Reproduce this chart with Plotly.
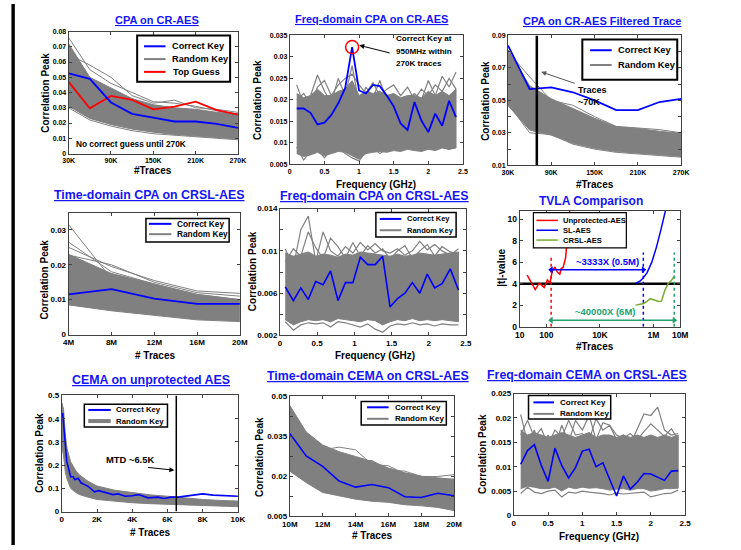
import plotly.graph_objects as go

W, H = 741, 550
FONT = "Liberation Sans, Arial, sans-serif"
GRAY = "#808080"
BLUE = "#0000FF"
RED = "#FF0000"
OLIVE = "#77AC30"
TEAL = "#23A06E"
TBLUE = "#1515F5"

# ---------------- data ----------------
# Panel 1: CPA on CR-AES (traces in K)
k_traces = [30, 60, 90, 120, 150, 180, 210, 240, 270]
p1_correct = [0.0525, 0.049, 0.0335, 0.026, 0.0235, 0.021, 0.021, 0.0195, 0.0168]
p1_top = [0.047, 0.0296, 0.0378, 0.0352, 0.029, 0.0307, 0.034, 0.0285, 0.0255]
p1_rand_hi = [0.072, 0.050, 0.043, 0.036, 0.032, 0.030, 0.029, 0.027, 0.026]
p1_rand_lo = [0.031, 0.023, 0.019, 0.016, 0.014, 0.0125, 0.0115, 0.0105, 0.0095]
p1_rand_a = [0.065, 0.058, 0.050, 0.038, 0.033, 0.035, 0.030, 0.029, 0.027]
p1_rand_b = [0.076, 0.055, 0.046, 0.040, 0.034, 0.033, 0.031, 0.028, 0.026]
p1_rand_c = [0.030, 0.022, 0.018, 0.015, 0.013, 0.012, 0.011, 0.010, 0.009]

# Panel 2: Freq-domain CPA on CR-AES (GHz)
freq24 = [0.1, 0.2, 0.3, 0.4, 0.5, 0.6, 0.7, 0.8, 0.9, 1.0, 1.1, 1.2,
          1.3, 1.4, 1.5, 1.6, 1.7, 1.8, 1.9, 2.0, 2.1, 2.2, 2.3, 2.4]
p2_correct = [0.018, 0.018, 0.017, 0.0143, 0.0147, 0.0165, 0.0192, 0.0228, 0.0323, 0.0222, 0.0215, 0.0235,
              0.0232, 0.021, 0.0185, 0.0145, 0.013, 0.0195, 0.0152, 0.0125, 0.0168, 0.014, 0.0198, 0.016]
p2_rand_hi = [0.0215, 0.0205, 0.021, 0.0225, 0.021, 0.021, 0.022, 0.0225, 0.0245, 0.021, 0.022, 0.0215,
              0.022, 0.021, 0.0215, 0.0205, 0.021, 0.021, 0.0205, 0.022, 0.021, 0.022, 0.021, 0.0225]
p2_rand_lo = [0.0075, 0.0068, 0.0072, 0.0078, 0.007, 0.0075, 0.008, 0.0078, 0.007, 0.0062, 0.0075, 0.0078,
              0.008, 0.0078, 0.0082, 0.008, 0.0085, 0.0082, 0.008, 0.0085, 0.0082, 0.0088, 0.0085, 0.0088]
p2_rand_a = [0.0235, 0.019, 0.021, 0.0258, 0.022, 0.0195, 0.025, 0.021, 0.028, 0.019, 0.023, 0.0205,
             0.0245, 0.020, 0.021, 0.019, 0.020, 0.0215, 0.020, 0.0245, 0.021, 0.0255, 0.023, 0.0265]
p2_rand_b = [0.020, 0.0215, 0.019, 0.023, 0.0245, 0.021, 0.0235, 0.025, 0.026, 0.0235, 0.0215, 0.024,
             0.021, 0.0225, 0.0235, 0.021, 0.023, 0.020, 0.0225, 0.021, 0.0235, 0.022, 0.025, 0.0225]
p2_rand_c = [0.009, 0.006, 0.008, 0.0085, 0.0065, 0.0085, 0.009, 0.0075, 0.0065, 0.0058, 0.008, 0.009,
             0.0075, 0.0085, 0.009, 0.0085, 0.009, 0.009, 0.0085, 0.0095, 0.0088, 0.009, 0.0085, 0.0092]

# Panel 3: CPA on CR-AES filtered trace
p3_correct = [0.0839, 0.057, 0.058, 0.055, 0.050, 0.044, 0.044, 0.049, 0.051]
p3_rand_hi = [0.0813, 0.059, 0.051, 0.045, 0.039, 0.0337, 0.0327, 0.031, 0.0297]
p3_rand_lo = [0.0469, 0.0317, 0.0286, 0.0236, 0.0205, 0.0185, 0.0175, 0.0165, 0.0155]
p3_rand_a = [0.080, 0.0645, 0.050, 0.047, 0.040, 0.034, 0.033, 0.032, 0.030]
p3_rand_b = [0.048, 0.030, 0.029, 0.023, 0.020, 0.018, 0.017, 0.016, 0.015]
p3_mtd = 70

# Panel 4: Time-domain CPA on CRSL-AES (traces in M)
m_traces4 = [4, 8, 12, 16, 20]
p4_correct = [0.0115, 0.013, 0.0103, 0.0088, 0.0088]
p4_rand_hi = [0.023, 0.0175, 0.0145, 0.0115, 0.010]
p4_rand_lo = [0.0085, 0.0068, 0.0055, 0.0042, 0.0037]
p4_rand_a = [0.0315, 0.016, 0.0135, 0.011, 0.0095]
p4_rand_b = [0.0265, 0.018, 0.0145, 0.0115, 0.010]
p4_rand_c = [0.025, 0.0195, 0.0155, 0.0125, 0.0118]
p4_rand_d = [0.0228, 0.020, 0.015, 0.012, 0.011]

# Panel 5: Freq-domain CPA on CRSL-AES
p5_freq = [0.07, 0.18, 0.28, 0.38, 0.48, 0.58, 0.68, 0.78, 0.88, 0.98, 1.08, 1.18,
           1.28, 1.38, 1.48, 1.58, 1.68, 1.78, 1.88, 1.98, 2.08, 2.18, 2.29, 2.40]
p5_correct = [0.0066, 0.0053, 0.0065, 0.0054, 0.0071, 0.0068, 0.0081, 0.0053, 0.0070, 0.0070, 0.0094, 0.0087,
              0.0087, 0.0095, 0.0047, 0.0055, 0.0060, 0.0070, 0.0060, 0.0078, 0.0065, 0.0069, 0.0083, 0.0063]
p5_rand_hi = [0.0098, 0.0095, 0.0097, 0.0099, 0.0095, 0.0097, 0.0096, 0.0094, 0.0097, 0.0096, 0.0099, 0.0098,
              0.0097, 0.0096, 0.0095, 0.0097, 0.0095, 0.0096, 0.0098, 0.0097, 0.0096, 0.0097, 0.0098, 0.0099]
p5_rand_lo = [0.0035, 0.003, 0.0033, 0.0035, 0.0034, 0.0035, 0.0033, 0.0036, 0.0035, 0.0034, 0.0033, 0.0035,
              0.0034, 0.003, 0.0033, 0.0035, 0.0034, 0.0036, 0.0034, 0.0035, 0.0034, 0.0035, 0.0034, 0.0033]
p5_rand_a = [0.0102, 0.0085, 0.012, 0.0133, 0.009, 0.0118, 0.010, 0.0095, 0.0104, 0.0098, 0.0108, 0.0101,
             0.0107, 0.0100, 0.0098, 0.0102, 0.0096, 0.0100, 0.0109, 0.0101, 0.0106, 0.0100, 0.0096, 0.0102]
p5_rand_b = [0.009, 0.0102, 0.0095, 0.0118, 0.0103, 0.0093, 0.0112, 0.0104, 0.0093, 0.0108, 0.0095, 0.0105,
             0.0098, 0.0102, 0.0092, 0.0100, 0.0105, 0.0093, 0.0100, 0.0106, 0.0095, 0.0104, 0.0099, 0.0097]
p5_rand_c = [0.0033, 0.0025, 0.003, 0.0032, 0.0031, 0.0032, 0.0028, 0.0033, 0.0032, 0.003, 0.0028, 0.0031,
             0.0026, 0.0023, 0.0029, 0.0031, 0.0030, 0.0032, 0.0030, 0.0031, 0.0029, 0.0031, 0.0030, 0.003]

# Panel 6: TVLA comparison
unprot_x = [19, 27, 38, 54, 66, 82, 109, 135, 166, 207, 253, 316, 355, 420, 520, 620, 700, 800]
unprot_t = [4.8, 4.05, 3.45, 4.05, 3.85, 3.65, 4.35, 4.05, 5.2, 5.55, 5.1, 4.85, 5.4, 5.5, 6.4, 8.3, 10.0, 11.8]
sl_x = [214e3, 300e3, 373e3, 575e3, 870e3, 1.3e6, 1.9e6, 2.7e6, 3.3e6]
sl_t = [4.05, 4.2, 4.4, 5.0, 6.0, 7.4, 9.0, 10.5, 11.5]
crsl_x = [214e3, 300e3, 436e3, 600e3, 760e3, 1.15e6, 1.6e6, 2.0e6, 2.7e6, 3.5e6, 4.7e6, 6.3e6]
crsl_t = [2.0, 2.05, 2.15, 2.4, 2.6, 2.46, 2.35, 2.37, 3.4, 4.0, 4.3, 4.75]
tvla_threshold = 4
mtd_unprot, mtd_sl, mtd_crsl = 150, 4.2e5, 6e6

# Panel 7: CEMA on unprotected AES
cema_x = [50, 180, 280, 370, 500, 650, 740, 920, 1100, 1300, 1500, 1700, 1850, 2100, 2500, 2900,
          3200, 3600, 4000, 4350, 4900, 5450, 5800, 6200, 6600, 7000, 7500, 8000, 8600, 9200, 10000]
cema_correct = [0.425, 0.31, 0.215, 0.19, 0.15, 0.15, 0.137, 0.143, 0.123, 0.116, 0.108, 0.095, 0.085, 0.09,
                0.08, 0.073, 0.076, 0.066, 0.068, 0.073, 0.059, 0.062, 0.056, 0.062, 0.062, 0.066, 0.073,
                0.076, 0.071, 0.069, 0.066]
cema_band_x = [0, 100, 200, 300, 500, 800, 1000, 1500, 2000, 3000, 4000, 5000, 6000, 7000, 8000, 9000, 10000]
cema_rand_hi = [0.47, 0.44, 0.33, 0.27, 0.215, 0.175, 0.158, 0.13, 0.11, 0.092, 0.082, 0.072, 0.066,
                0.058, 0.052, 0.048, 0.045]
cema_rand_lo = [0.28, 0.24, 0.17, 0.14, 0.10, 0.082, 0.073, 0.062, 0.052, 0.044, 0.038, 0.034, 0.031,
                0.028, 0.025, 0.023, 0.021]
cema_mtd = 6500

# Panel 8: Time-domain CEMA on CRSL-AES (M traces)
m_traces8 = [10, 11, 12, 13, 14, 15, 16, 17, 18, 19, 20]
p8_correct = [0.0361, 0.0277, 0.0238, 0.0183, 0.016, 0.017, 0.0158, 0.0124, 0.0121, 0.0137, 0.0128]
p8_rand_hi = [0.0466, 0.0367, 0.0318, 0.0293, 0.0275, 0.0256, 0.0232, 0.0214, 0.0201, 0.0195, 0.0189]
p8_rand_lo = [0.022, 0.0177, 0.014, 0.0128, 0.0115, 0.0107, 0.0103, 0.0094, 0.009, 0.0084, 0.0072]
p8_rand_a = [0.044, 0.035, 0.030, 0.031, 0.030, 0.0245, 0.024, 0.021, 0.020, 0.019, 0.019]
p8_rand_b = [0.043, 0.034, 0.029, 0.027, 0.026, 0.026, 0.0225, 0.022, 0.020, 0.020, 0.0207]

# Panel 9: Freq-domain CEMA on CRSL-AES
p9_correct = [0.0105, 0.0133, 0.0145, 0.0103, 0.007, 0.0138, 0.0102, 0.0077, 0.0098, 0.0132, 0.0136, 0.0100,
              0.0108, 0.0075, 0.004, 0.0081, 0.0054, 0.0068, 0.0086, 0.0085, 0.0078, 0.0072, 0.0091, 0.0092]
p9_rand_hi = [0.0175, 0.0165, 0.017, 0.0165, 0.016, 0.0165, 0.017, 0.0165, 0.016, 0.0165, 0.017, 0.016,
              0.0165, 0.0165, 0.016, 0.0165, 0.016, 0.0165, 0.016, 0.0165, 0.016, 0.0165, 0.016, 0.0165]
p9_rand_lo = [0.0055, 0.006, 0.0058, 0.0055, 0.0055, 0.0058, 0.005, 0.0058, 0.0055, 0.0058, 0.0056, 0.0057,
              0.0055, 0.0052, 0.0054, 0.0055, 0.0052, 0.0055, 0.0055, 0.005, 0.0052, 0.0055, 0.0055, 0.0056]
p9_rand_a = [0.0207, 0.015, 0.0175, 0.013, 0.0165, 0.014, 0.0185, 0.015, 0.0195, 0.0175, 0.0205, 0.0155,
             0.019, 0.0185, 0.0155, 0.0165, 0.0145, 0.0175, 0.0208, 0.0205, 0.0222, 0.0175, 0.0165, 0.0168]
p9_rand_b = [0.0165, 0.0195, 0.016, 0.0178, 0.0145, 0.0175, 0.016, 0.0195, 0.0165, 0.0168, 0.0155, 0.0198,
             0.0175, 0.0185, 0.0165, 0.0158, 0.0168, 0.0155, 0.0172, 0.0188, 0.0175, 0.0162, 0.0178, 0.0155]
p9_rand_c = [0.0045, 0.0058, 0.0048, 0.0045, 0.005, 0.0052, 0.0038, 0.0048, 0.0046, 0.005, 0.0048, 0.0047,
             0.0045, 0.0042, 0.0046, 0.0044, 0.0045, 0.0046, 0.0048, 0.0038, 0.0042, 0.0045, 0.0046, 0.0052]

# ---------------- helpers ----------------
fig = go.Figure()


def axn(i):
    return ("x", "y") if i == 1 else (f"x{i}", f"y{i}")


def band(i, x, lo, hi):
    xa, ya = axn(i)
    fig.add_trace(go.Scatter(x=list(x) + list(x)[::-1], y=list(hi) + list(lo)[::-1], fill="toself",
                             fillcolor=GRAY, mode="lines", line=dict(color=GRAY, width=1),
                             xaxis=xa, yaxis=ya, showlegend=False, hoverinfo="skip"))


def line(i, x, y, color, width=1.0, dash="solid", mode="lines", **kw):
    xa, ya = axn(i)
    fig.add_trace(go.Scatter(x=x, y=y, mode=mode, line=dict(color=color, width=width, dash=dash),
                             xaxis=xa, yaxis=ya, showlegend=False, hoverinfo="skip", **kw))


def PX(px):
    return px / W


def PY(py):
    return 1 - py / H


annotations = []
shapes = []


def text(px, py, s, size, color="black", xanchor="center", angle=0, bold=True, underline=False):
    annotations.append(dict(x=PX(px), y=PY(py), xref="paper", yref="paper", text=s, showarrow=False,
                            xanchor=xanchor, yanchor="middle", textangle=angle,
                            font=dict(family=FONT, size=size, color=color,
                                      weight="bold" if bold else "normal",
                                      lineposition="under" if underline else "none")))


def arrow(hx, hy, tx, ty, color="black", width=1):
    annotations.append(dict(x=PX(hx), y=PY(hy), xref="paper", yref="paper", text="", showarrow=True,
                            ax=tx - hx, ay=ty - hy, axref="pixel", ayref="pixel",
                            arrowhead=2, arrowsize=1, arrowwidth=width, arrowcolor=color))


def legend(box, items, size, bw=1):
    x0, x1, y0, y1 = box
    shapes.append(dict(type="rect", xref="paper", yref="paper", x0=PX(x0), x1=PX(x1), y0=PY(y1), y1=PY(y0),
                       line=dict(color="black", width=bw), fillcolor="white", layer="above"))
    for label, color, py, lx0, lx1, tx, lw in items:
        shapes.append(dict(type="line", xref="paper", yref="paper", x0=PX(lx0), x1=PX(lx1), y0=PY(py), y1=PY(py),
                           line=dict(color=color, width=lw), layer="above"))
        text(tx, py, label, size, xanchor="left")


boxes = {
    1: (62, 235, 28, 152),
    2: (288, 465, 32, 163),
    3: (511, 688, 32, 164),
    4: (62, 237, 212, 336),
    5: (278, 468, 208, 337),
    6: (523, 687, 210, 328),
    7: (55, 235, 398, 516),
    8: (288, 456, 399, 521),
    9: (517, 692, 396, 520),
}


def axis_base(size):
    return dict(showline=True, linecolor="#404040", linewidth=1, mirror="ticks", ticks="inside", ticklen=3,
                tickcolor="#404040", tickwidth=1, showgrid=False, zeroline=False,
                tickfont=dict(family=FONT, size=size, color="black", weight="bold"))


layout_axes = {}


def set_axes(i, xcfg, ycfg, size=7.5):
    x0, x1, y0, y1 = boxes[i]
    xa = axis_base(size)
    xa.update(domain=[PX(x0), PX(x1)], anchor="y" if i == 1 else f"y{i}")
    xa.update(xcfg)
    ya = axis_base(size)
    ya.update(domain=[PY(y1), PY(y0)], anchor="x" if i == 1 else f"x{i}")
    ya.update(ycfg)
    layout_axes["xaxis" if i == 1 else f"xaxis{i}"] = xa
    layout_axes["yaxis" if i == 1 else f"yaxis{i}"] = ya


def k_labels(vals):
    return [f"{v}K" for v in vals]


# ---------------- panel 1 ----------------
band(1, k_traces, p1_rand_lo, p1_rand_hi)
for r in (p1_rand_a, p1_rand_b, p1_rand_c):
    line(1, k_traces, r, GRAY, 1)
line(1, k_traces, p1_top, RED, 1.8)
line(1, k_traces, p1_correct, BLUE, 1.8)
set_axes(1, dict(range=[30, 270], tickvals=k_traces[::2], ticktext=k_labels(k_traces[::2])),
         dict(range=[0, 0.08], tickvals=[0, 0.01, 0.02, 0.03, 0.04, 0.05, 0.06, 0.07, 0.08],
              ticktext=["0", "0.01", "0.02", "0.03", "0.04", "0.05", "0.06", "0.07", "0.08"]), 7)
text(152, 16, "CPA on CR-AES", 11, TBLUE, underline=True)
text(148, 169, "#Traces", 10)
text(38, 90, "Correlation Peak", 10, angle=-90)
text(67, 142, "No correct guess until 270K", 8.3, xanchor="left")
legend((132, 227, 32, 79), [("Correct Key", BLUE, 43, 139, 161, 166, 2),
                             ("Random Key", GRAY, 56, 139, 161, 166, 2),
                             ("Top Guess", RED, 69, 139, 161, 167, 2)], 9.2, bw=2)

# ---------------- panel 2 ----------------
band(2, freq24, p2_rand_lo, p2_rand_hi)
for r in (p2_rand_a, p2_rand_b, p2_rand_c):
    line(2, freq24, r, GRAY, 1.2)
line(2, freq24, p2_correct, BLUE, 1.8)
peak_i = p2_correct.index(max(p2_correct))
line(2, [freq24[peak_i]], [p2_correct[peak_i]], RED, mode="markers",
     marker=dict(symbol="circle-open", size=13, color=RED, line=dict(width=1.5, color=RED)))
set_axes(2, dict(range=[0, 2.5], tickvals=[0, 0.5, 1, 1.5, 2, 2.5], ticktext=["0", "0.5", "1", "1.5", "2", "2.5"]),
         dict(range=[0.005, 0.035], tickvals=[0.005, 0.01, 0.015, 0.02, 0.025, 0.03, 0.035],
              ticktext=["0.005", "0.01", "0.015", "0.02", "0.025", "0.03", "0.035"]), 7)
text(372, 15, "Freq-domain CPA on CR-AES", 11, TBLUE, underline=True)
text(376, 183, "Frequency (GHz)", 10)
text(255, 97, "Correlation Peak", 10, angle=-90)
text(395, 35.5, "Correct Key at", 8.1, xanchor="left")
text(395, 48, "950MHz within", 8.1, xanchor="left")
text(395, 60.5, "270K traces", 8.1, xanchor="left")
arrow(359, 42, 391, 50)

# ---------------- panel 3 ----------------
band(3, k_traces, p3_rand_lo, p3_rand_hi)
for r in (p3_rand_a, p3_rand_b):
    line(3, k_traces, r, GRAY, 1)
line(3, k_traces, p3_correct, BLUE, 1.8)
line(3, [p3_mtd, p3_mtd], [0.01, 0.09], "black", 2.5)
set_axes(3, dict(range=[30, 270], tickvals=k_traces[::2], ticktext=k_labels(k_traces[::2])),
         dict(range=[0.01, 0.09], tickvals=[0.01, 0.03, 0.05, 0.07, 0.09],
              ticktext=["0.01", "0.03", "0.05", "0.07", "0.09"],
              minor=dict(dtick=0.01, tick0=0.01, ticks="inside", ticklen=3, tickcolor="#404040")), 7)
text(607, 17, "CPA on CR-AES Filtered Trace", 11, TBLUE, underline=True)
text(600, 183, "#Traces", 10)
text(488, 98, "Correlation Peak", 10, angle=-90)
text(581, 87, "Traces", 9, xanchor="left")
text(581, 100, "~70K", 9, xanchor="left")
arrow(545, 69, 580, 81, color="#555555")
legend((587, 684, 36, 77), [("Correct Key", BLUE, 47, 595, 617, 621, 2),
                             ("Random Key", GRAY, 62, 595, 617, 621, 2)], 9.3, bw=2)

# ---------------- panel 4 ----------------
band(4, m_traces4, p4_rand_lo, p4_rand_hi)
for r in (p4_rand_a, p4_rand_b, p4_rand_c, p4_rand_d):
    line(4, m_traces4, r, GRAY, 1)
line(4, m_traces4, p4_correct, BLUE, 1.8)
set_axes(4, dict(range=[4, 20], tickvals=m_traces4, ticktext=[f"{v}M" for v in m_traces4]),
         dict(range=[0, 0.035], tickvals=[0, 0.01, 0.02, 0.03], ticktext=["0", "0.01", "0.02", "0.03"]), 8)
text(144, 194, "Time-domain CPA on CRSL-AES", 12.4, TBLUE, underline=True)
text(150, 357, "# Traces", 10)
text(37, 280, "Correlation Peak", 10, angle=-90)
legend((141, 226, 218, 242), [("Correct Key", BLUE, 223.5, 144, 167, 171, 2),
                               ("Random Key", GRAY, 234, 144, 167, 171, 2)], 8.3, bw=1.5)

# ---------------- panel 5 ----------------
band(5, p5_freq, p5_rand_lo, p5_rand_hi)
for r in (p5_rand_a, p5_rand_b, p5_rand_c):
    line(5, p5_freq, r, GRAY, 1.2)
line(5, p5_freq, p5_correct, BLUE, 1.6)
set_axes(5, dict(range=[0, 2.5], tickvals=[0, 0.5, 1, 1.5, 2, 2.5], ticktext=["0", "0.5", "1", "1.5", "2", "2.5"]),
         dict(range=[0.002, 0.014], tickvals=[0.002, 0.006, 0.01, 0.014], ticktext=["0.002", "0.006", "0.01", "0.014"],
              minor=dict(dtick=0.002, tick0=0.002, ticks="inside", ticklen=3, tickcolor="#404040")), 8)
text(375, 195, "Freq-domain CPA on CRSL-AES", 12.4, TBLUE, underline=True)
text(375, 357, "Frequency (GHz)", 10)
text(250, 272, "Correlation Peak", 10, angle=-90)
legend((376, 458, 212, 237), [("Correct Key", BLUE, 218.5, 380, 402, 406, 2),
                               ("Random Key", GRAY, 230, 380, 402, 406, 2)], 7.5, bw=1.5)

# ---------------- panel 6 ----------------
line(6, [10, 1e7], [tvla_threshold, tvla_threshold], "black", 2.5)
line(6, unprot_x, unprot_t, RED, 1.5)
line(6, sl_x, sl_t, BLUE, 1.5)
line(6, crsl_x, crsl_t, OLIVE, 1.5)
line(6, [mtd_unprot, mtd_unprot], [0, 6.6], RED, 1.5, dash="dot")
line(6, [mtd_sl, mtd_sl], [0, 6.9], BLUE, 1.5, dash="dot")
line(6, [mtd_crsl, mtd_crsl], [0, 6.9], TEAL, 1.5, dash="dot")
line(6, [mtd_unprot, mtd_sl], [5.3, 5.3], BLUE, 1.5, mode="lines+markers",
     marker=dict(symbol=["triangle-left", "triangle-right"], size=6, color=BLUE))
line(6, [mtd_unprot, mtd_crsl], [0.6, 0.6], TEAL, 1.5, mode="lines+markers",
     marker=dict(symbol=["triangle-left", "triangle-right"], size=6, color=TEAL))
set_axes(6, dict(type="log", range=[1, 7], tickvals=[10, 100, 1e4, 1e6, 1e7], ticktext=["10", "100", "10K", "1M", "10M"],
                 tickfont=dict(family=FONT, size=8.5, color="black", weight="bold")),
         dict(range=[0, 10.8], tickvals=[0, 2, 4, 6, 8, 10], ticktext=["0", "2", "4", "6", "8", "10"],
              tickfont=dict(family=FONT, size=8.5, color="black", weight="bold")), 8.5)
text(596, 200.5, "TVLA Comparison", 12, TBLUE)
text(600, 348, "#Traces", 10)
text(505, 268, "|t|-value", 10, angle=-90)
text(613, 262, "~3333X (0.5M)", 9.5, BLUE)
text(610, 313, "~40000X (6M)", 9.5, TEAL)
legend((537, 632, 212, 248), [("Unprotected-AES", RED, 220, 540, 562, 565, 1.5),
                               ("SL-AES", BLUE, 230, 540, 562, 565, 1.5),
                               ("CRSL-AES", OLIVE, 240, 540, 562, 565, 1.5)], 7.6, bw=1.2)

# ---------------- panel 7 ----------------
band(7, cema_band_x, cema_rand_lo, cema_rand_hi)
line(7, cema_x, cema_correct, BLUE, 1.6)
line(7, [cema_mtd, cema_mtd], [0, 0.5], "black", 1.5)
set_axes(7, dict(range=[0, 10000], tickvals=[0, 2000, 4000, 6000, 8000, 10000],
                 ticktext=["0", "2K", "4K", "6K", "8K", "10K"]),
         dict(range=[0, 0.5], tickvals=[0, 0.1, 0.2, 0.3, 0.4, 0.5], ticktext=["0", "0.1", "0.2", "0.3", "0.4", "0.5"]), 8)
text(146, 382, "CEMA on unprotected AES", 12.4, TBLUE, underline=True)
text(145, 537, "# Traces", 10)
text(32, 456, "Correlation Peak", 10, angle=-90)
text(98, 463, "MTD ~6.5K", 9.4, xanchor="left")
arrow(170, 474, 142, 471)
legend((78, 163, 407, 430), [("Correct Key", BLUE, 412.7, 82, 105, 108.5, 2),
                              ("Random Key", GRAY, 424, 82, 105, 108.5, 4)], 7.8, bw=1.5)

# ---------------- panel 8 ----------------
band(8, m_traces8, p8_rand_lo, p8_rand_hi)
for r in (p8_rand_a, p8_rand_b):
    line(8, m_traces8, r, GRAY, 1)
line(8, m_traces8, p8_correct, BLUE, 1.6)
set_axes(8, dict(range=[10, 20], tickvals=[10, 12, 14, 16, 18, 20], ticktext=["10M", "12M", "14M", "16M", "18M", "20M"]),
         dict(range=[0.005, 0.05], tickvals=[0.005, 0.02, 0.035, 0.05], ticktext=["0.005", "0.02", "0.035", "0.05"],
              minor=dict(dtick=0.0075, tick0=0.005, ticks="inside", ticklen=3, tickcolor="#404040")), 8)
text(368, 378, "Time-domain CEMA on CRSL-AES", 12.4, TBLUE, underline=True)
text(372, 540, "# Traces", 10)
text(257, 460, "Correlation Peak", 10, angle=-90)
legend((361, 448, 404, 428), [("Correct Key", BLUE, 410, 367, 389, 393, 2),
                               ("Random Key", GRAY, 421.7, 367, 389, 393, 2)], 8, bw=1.5)

# ---------------- panel 9 ----------------
band(9, freq24, p9_rand_lo, p9_rand_hi)
for r in (p9_rand_a, p9_rand_b, p9_rand_c):
    line(9, freq24, r, GRAY, 1.2)
line(9, freq24, p9_correct, BLUE, 1.6)
set_axes(9, dict(range=[0, 2.5], tickvals=[0, 0.5, 1, 1.5, 2, 2.5], ticktext=["0", "0.5", "1", "1.5", "2", "2.5"]),
         dict(range=[0, 0.025], tickvals=[0, 0.005, 0.01, 0.015, 0.02, 0.025],
              ticktext=["0", "0.005", "0.01", "0.015", "0.02", "0.025"]), 8)
text(592, 377, "Freq-domain CEMA on CRSL-AES", 12.4, TBLUE, underline=True)
text(604, 541, "Frequency (GHz)", 10)
text(485, 458, "Correlation Peak", 10, angle=-90)
legend((532, 616, 398, 422), [("Correct Key", BLUE, 405, 537, 558, 562.5, 2),
                               ("Random Key", GRAY, 416.7, 537, 558, 562.5, 2)], 8, bw=1.5)

# left border bar
shapes.append(dict(type="rect", xref="paper", yref="paper", x0=PX(3.5), x1=PX(7), y0=0, y1=1,
                   line=dict(width=0), fillcolor="black", layer="above"))

fig.update_layout(width=W, height=H, margin=dict(l=0, r=0, t=0, b=0), paper_bgcolor="white",
                  plot_bgcolor="white", showlegend=False, annotations=annotations, shapes=shapes,
                  **layout_axes)
fig.write_html("out.html", config={"displayModeBar": False},
               post_script="document.body.style.margin='0px';document.body.style.padding='0px';"
                           "document.body.style.overflow='hidden';")
